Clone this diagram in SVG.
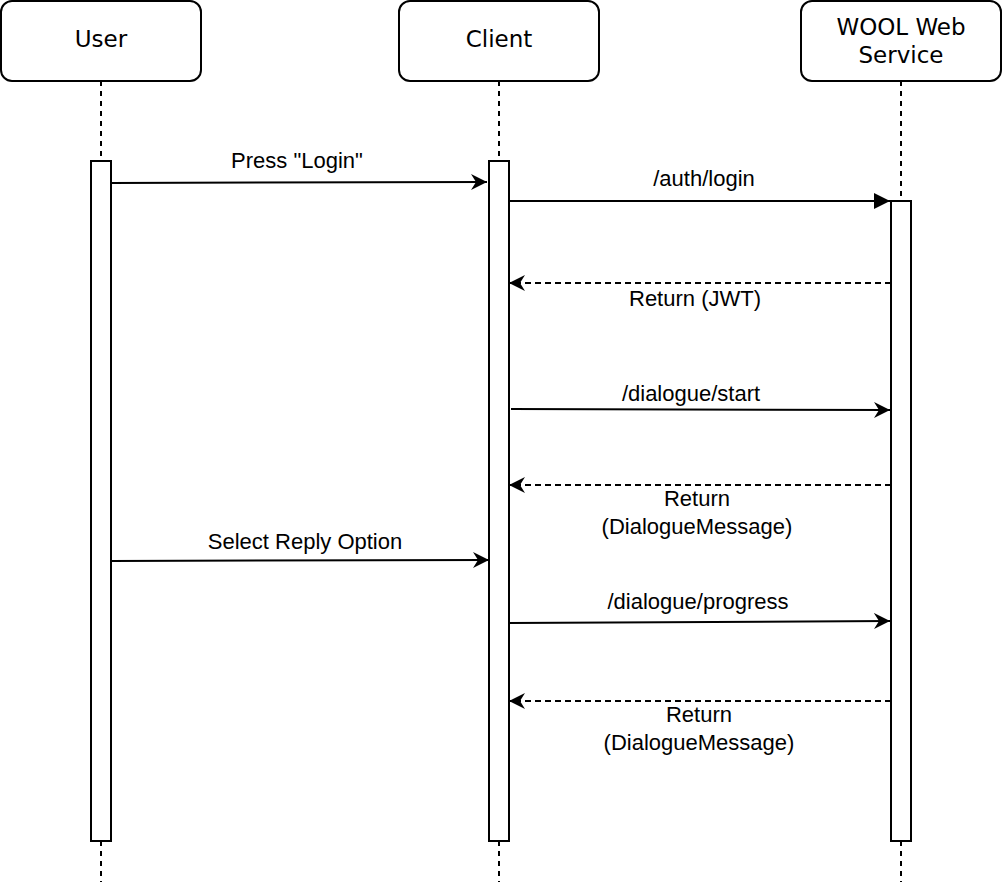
<svg xmlns="http://www.w3.org/2000/svg" width="1002" height="882" viewBox="0 0 1002 882">
  <style>
    .head { fill: #ffffff; stroke: #000000; stroke-width: 2; }
    .life { stroke: #000000; stroke-width: 2; stroke-dasharray: 5 5; fill: none; }
    .act { fill: #ffffff; stroke: #000000; stroke-width: 2; }
    .msg { stroke: #000000; stroke-width: 2; fill: none; }
    .ret { stroke: #000000; stroke-width: 2; fill: none; stroke-dasharray: 6 4; }
    .ht { font-family: "DejaVu Sans", Verdana, sans-serif; font-size: 23px; fill: #000000; text-anchor: middle; }
    .lt { font-family: "Liberation Sans", Arial, Helvetica, sans-serif; font-size: 22px; fill: #000000; text-anchor: middle; }
  </style>
  <defs>
    <marker id="classic" markerUnits="userSpaceOnUse" markerWidth="18" markerHeight="18" refX="16" refY="8" orient="auto" viewBox="0 0 18 16">
      <path d="M0,0 L16,8 L0,16 L5,8 Z" fill="#000000" stroke="none"/>
    </marker>
    <marker id="block" markerUnits="userSpaceOnUse" markerWidth="18" markerHeight="18" refX="16" refY="8" orient="auto" viewBox="0 0 18 16">
      <path d="M0,0 L16,8 L0,16 Z" fill="#000000" stroke="none"/>
    </marker>
  </defs>
  <rect width="1002" height="882" fill="#ffffff"/>

  <g id="lifelines">
    <line class="life" x1="101" y1="81" x2="101" y2="882"/>
    <line class="life" x1="499" y1="81" x2="499" y2="882"/>
    <line class="life" x1="901" y1="81" x2="901" y2="882"/>
  </g>

  <g id="node-user">
    <rect class="head" x="1" y="1" width="200" height="80" rx="11" ry="11"/>
    <text class="ht" x="101" y="47">User</text>
    <rect class="act" x="91" y="161" width="20" height="680"/>
  </g>

  <g id="node-client">
    <rect class="head" x="399" y="1" width="200" height="80" rx="11" ry="11"/>
    <text class="ht" x="499" y="47">Client</text>
    <rect class="act" x="489" y="161" width="20" height="680"/>
  </g>

  <g id="node-wool">
    <rect class="head" x="801" y="1" width="200" height="80" rx="11" ry="11"/>
    <text class="ht" x="901" y="35">WOOL Web</text>
    <text class="ht" x="901" y="63">Service</text>
    <rect class="act" x="891" y="201" width="20" height="640"/>
  </g>

  <g id="connectors">
    <line class="msg" x1="111" y1="183" x2="487" y2="182" marker-end="url(#classic)"/>
    <line class="msg" x1="509" y1="201" x2="890" y2="201" marker-end="url(#block)"/>
    <line class="ret" x1="891" y1="283" x2="509" y2="283" marker-end="url(#classic)"/>
    <line class="msg" x1="511" y1="409" x2="890" y2="410" marker-end="url(#classic)"/>
    <line class="ret" x1="891" y1="485" x2="509" y2="485" marker-end="url(#classic)"/>
    <line class="msg" x1="111" y1="561" x2="489" y2="560" marker-end="url(#classic)"/>
    <line class="msg" x1="509" y1="623" x2="890" y2="621" marker-end="url(#classic)"/>
    <line class="ret" x1="891" y1="701" x2="509" y2="701" marker-end="url(#classic)"/>
  </g>

  <g id="labels">
    <text class="lt" x="297" y="168">Press "Login"</text>
    <text class="lt" x="704" y="186">/auth/login</text>
    <text class="lt" x="695" y="306">Return (JWT)</text>
    <text class="lt" x="691" y="401">/dialogue/start</text>
    <text class="lt" x="697" y="506">Return</text>
    <text class="lt" x="697" y="534">(DialogueMessage)</text>
    <text class="lt" x="305" y="549">Select Reply Option</text>
    <text class="lt" x="698" y="609">/dialogue/progress</text>
    <text class="lt" x="699" y="722">Return</text>
    <text class="lt" x="699" y="750">(DialogueMessage)</text>
  </g>
</svg>
